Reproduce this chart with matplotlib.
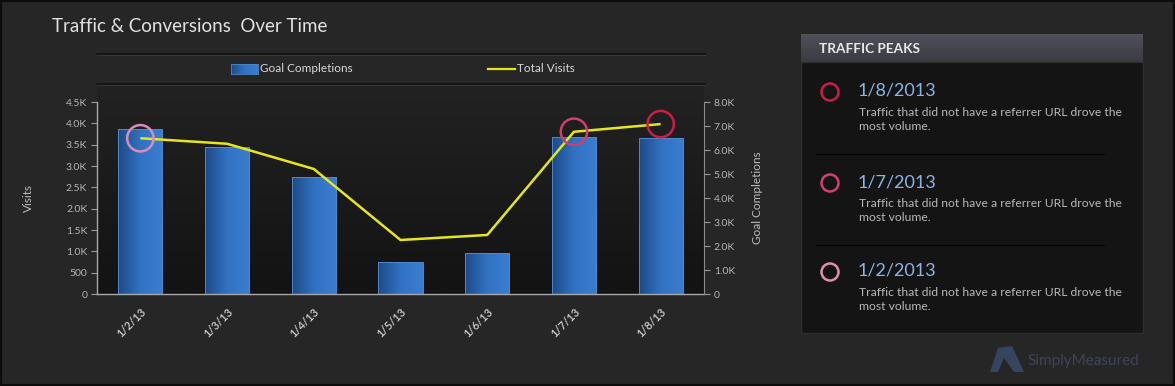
import numpy as np
import matplotlib
matplotlib.use("Agg")
import matplotlib.pyplot as plt
from matplotlib.patches import Rectangle, Ellipse, Polygon
from matplotlib.lines import Line2D
from matplotlib.colors import LinearSegmentedColormap
from matplotlib.ticker import FuncFormatter

plt.rcParams['font.family'] = ['Lato', 'DejaVu Sans']

# --------------------- DATA -------------------------------------------------
dates = ['1/2/13', '1/3/13', '1/4/13', '1/5/13', '1/6/13', '1/7/13', '1/8/13']
goal_completions = [3860, 3450, 2750, 745, 965, 3685, 3665]   # bars, left axis
total_visits = [6490, 6260, 5210, 2250, 2460, 6760, 7080]     # line, right axis
left_ticks = [0, 500, 1000, 1500, 2000, 2500, 3000, 3500, 4000, 4500]
right_ticks = [0, 1000, 2000, 3000, 4000, 5000, 6000, 7000, 8000]
peak_idx = [0, 5, 6]
peak_colors = ['#d98cba', '#cf3f6c', '#c81e48']

panel_title = 'TRAFFIC PEAKS'
peak_dates = ['1/8/2013', '1/7/2013', '1/2/2013']
peak_ring_colors = ['#c81e48', '#d2406e', '#e08fb0']
peak_text = ['Traffic that did not have a referrer URL drove the\nmost volume.'] * 3

W, H = 1175, 386
BG = '#262626'

def fx(px):
    return px / W

def fy(py):
    return 1 - py / H

fig = plt.figure(figsize=(W / 100, H / 100), dpi=100, facecolor=BG)

# outer border
fig.patches.append(Rectangle((0, 0), 1, 1, transform=fig.transFigure, fill=False,
                             edgecolor='#0c0c0c', lw=3))

fig.text(fx(52), fy(27), 'Traffic & Conversions  Over Time', color='#e2e2e2',
         fontsize=13.5, va='center', ha='left')

# dark plot background with gradient
bg_ax = fig.add_axes([fx(97), fy(294), fx(607), (294 - 86) / H])
bg_cmap = LinearSegmentedColormap.from_list('bg', ['#222222', '#131313'])
bg_ax.imshow(np.linspace(0, 1, 100).reshape(-1, 1), cmap=bg_cmap, aspect='auto',
             extent=(0, 1, 0, 1))
bg_ax.axis('off')

# legend band
for yy in (54, 84):
    fig.add_artist(Line2D([fx(97), fx(705)], [fy(yy), fy(yy)], color='#121212', lw=1.2))
    fig.add_artist(Line2D([fx(97), fx(705)], [fy(yy + 1), fy(yy + 1)], color='#3a3a3a', lw=0.6))

bar_cmap = LinearSegmentedColormap.from_list('bar', ['#1d4b88', '#3272c2', '#3a7dd0'])
leg_ax = fig.add_axes([fx(231), fy(74), fx(27), 10 / H])
leg_ax.imshow(np.linspace(0, 1, 50).reshape(1, -1), cmap=bar_cmap, aspect='auto')
leg_ax.set_xticks([]); leg_ax.set_yticks([])
for s in leg_ax.spines.values():
    s.set_color('#4d86c8'); s.set_linewidth(0.6)
fig.text(fx(260), fy(69), 'Goal Completions', color='#d8d8d8', fontsize=8.5, va='center')
fig.add_artist(Line2D([fx(488), fx(515)], [fy(69), fy(69)], color='#e6e61c', lw=1.6))
fig.text(fx(517), fy(69), 'Total Visits', color='#d8d8d8', fontsize=8.5, va='center')

# main axes
ax = fig.add_axes([fx(97), fy(294), fx(607), (294 - 102) / H])
ax.set_facecolor('none')
x = np.arange(len(dates))
bars = ax.bar(x, goal_completions, width=0.51, color='none', edgecolor='#4f88cc',
              linewidth=0.7, zorder=3)
grad = np.linspace(0, 1, 64).reshape(1, -1)
for b in bars:
    bx, by = b.get_x(), b.get_y()
    im = ax.imshow(grad, cmap=bar_cmap, aspect='auto', zorder=2,
                   extent=(bx, bx + b.get_width(), by, by + b.get_height()))
    im.set_clip_path(b)
ax.set_xlim(-0.5, len(dates) - 0.5)
ax.set_ylim(0, 4500)
ax.set_yticks(left_ticks)
ax.yaxis.set_major_formatter(FuncFormatter(
    lambda v, p: '0' if v == 0 else (f'{v:.0f}' if v < 1000 else f'{v / 1000:.1f}K')))
ax.set_xticks(x)
ax.set_xticklabels(dates, rotation=45, ha='right', rotation_mode='anchor',
                   fontweight='semibold')
ax.tick_params(axis='x', length=0, colors='#d2d2d2', labelsize=8, pad=9)
ax.tick_params(axis='y', length=4, width=0.8, color='#9a9a9a', labelcolor='#b5b5b5',
               labelsize=7.5, pad=3)
for side in ('top', 'right'):
    ax.spines[side].set_visible(False)
for side in ('left', 'bottom'):
    ax.spines[side].set_color('#a8a8a8')
    ax.spines[side].set_linewidth(1)
fig.text(fx(28), fy(198), 'Visits', color='#bdbdbd', fontsize=8.5, rotation=90,
         ha='center', va='center')

ax2 = ax.twinx()
ax2.plot(x, total_visits, color='#e6e61c', lw=1.8, zorder=5, solid_capstyle='butt')
ax2.scatter([x[i] for i in peak_idx], [total_visits[i] for i in peak_idx], s=360,
            facecolors='none', edgecolors=peak_colors, linewidths=1.8, zorder=6)
ax2.set_ylim(0, 8000)
ax2.set_yticks(right_ticks)
ax2.yaxis.set_major_formatter(FuncFormatter(
    lambda v, p: '0' if v == 0 else f'{v / 1000:.1f}K'))
ax2.tick_params(axis='y', length=4, width=0.8, color='#9a9a9a', labelcolor='#b5b5b5',
                labelsize=7.5, pad=3)
for side in ('top', 'left', 'bottom'):
    ax2.spines[side].set_visible(False)
ax2.spines['right'].set_color('#8a8a8a')
ax2.spines['right'].set_linewidth(0.8)
ax2.set_ylabel('Goal Completions', color='#bdbdbd', fontsize=8.5, labelpad=12)

# right panel
fig.patches.append(Rectangle((fx(801), fy(333)), fx(342), (333 - 62) / H,
                             transform=fig.transFigure, facecolor='#141414',
                             edgecolor='#2e2e2e', lw=1))
hdr_ax = fig.add_axes([fx(801), fy(62), fx(342), 28 / H])
hdr_cmap = LinearSegmentedColormap.from_list('hdr', ['#50505a', '#3b3b44'])
hdr_ax.imshow(np.linspace(0, 1, 50).reshape(-1, 1), cmap=hdr_cmap, aspect='auto')
hdr_ax.axis('off')
fig.text(fx(819), fy(49), panel_title, color='#e8e8e8', fontsize=9.8, fontweight='bold',
         va='center')

item_y = [92, 183, 272]
for k in range(3):
    y0 = item_y[k]
    fig.patches.append(Ellipse((fx(830), fy(y0)), 17 / W, 17 / H, transform=fig.transFigure,
                               fill=False, edgecolor=peak_ring_colors[k], lw=1.8))
    fig.text(fx(858), fy(y0 - 1), peak_dates[k], color='#8fb3e2', fontsize=13,
             va='center')
    fig.text(fx(859), fy(y0 + 15), peak_text[k], color='#b8b8b8', fontsize=8.7,
             va='top', linespacing=1.35)
for yy in (154, 245):
    fig.add_artist(Line2D([fx(816), fx(1104)], [fy(yy), fy(yy)], color='#050505', lw=1))

# logo
fig.patches.append(Polygon([(fx(990), fy(372)), (fx(998), fy(348)), (fx(1012), fy(346)),
                            (fx(1024), fy(372)), (fx(1014), fy(372)), (fx(1004), fy(358)),
                            (fx(998), fy(372))], closed=True, transform=fig.transFigure,
                           facecolor='#34465e', edgecolor='none'))
fig.text(fx(1027), fy(361), 'SimplyMeasured', color='#3d4654', fontsize=11, va='center')

fig.savefig('out.png', dpi=100, facecolor=BG)
